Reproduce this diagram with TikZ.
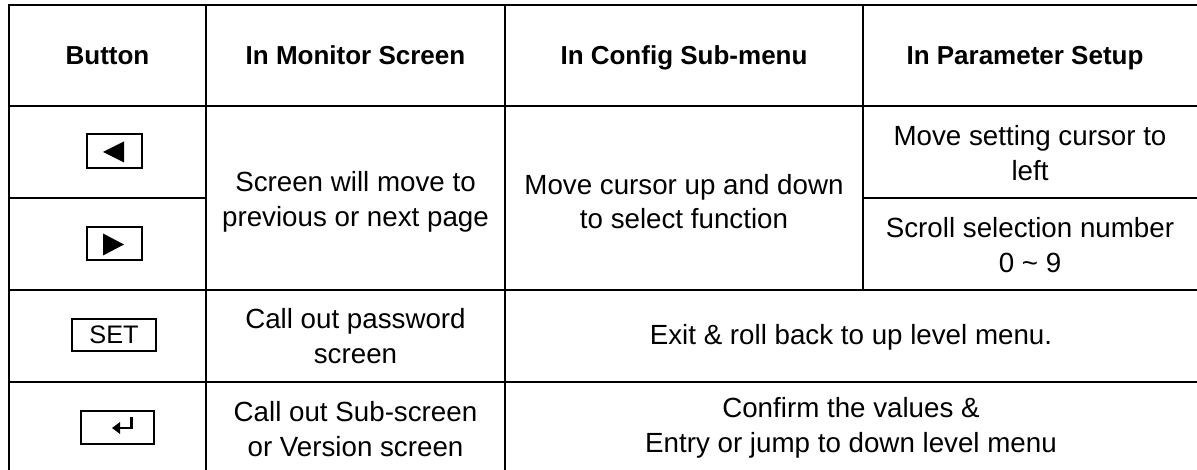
\documentclass[tikz,border=0pt]{standalone}
\usepackage{fontspec}
\setmainfont{Liberation Sans}
\usepackage{tikz}
\usetikzlibrary{arrows.meta}

\tikzset{
  celltext/.style={align=center,inner sep=0.75pt,font=\fontsize{20.8}{26}\selectfont},
  headtext/.style={inner sep=0.75pt,anchor=base,font=\fontsize{19.5}{24}\selectfont\bfseries},
  keybox/.style={draw,line width=1.2pt,inner sep=0pt},
  rule/.style={line width=1.5pt},
}

\begin{document}
\begin{tikzpicture}[x=0.75pt,y=0.75pt,yscale=-1]
\useasboundingbox (0,0) rectangle (1197,470);

%Table frame and rules
\draw [rule] (9,470) -- (9,5) -- (1197,5) ;
\draw [rule] (9,106) -- (1197,106) ;
\draw [rule] (9,198) -- (206,198) ;
\draw [rule] (863,198) -- (1197,198) ;
\draw [rule] (9,290) -- (1197,290) ;
\draw [rule] (9,382) -- (1197,382) ;
\draw [rule] (206,5) -- (206,470) ;
\draw [rule] (505,5) -- (505,470) ;
\draw [rule] (863,5) -- (863,290) ;

%Keys
\node [keybox,minimum width=41.25pt,minimum height=25.5pt] (bleft) at (114.5,151) {};
\fill (103,152) -- (124,141.5) -- (124,162.5) -- cycle ;
\node [keybox,minimum width=41.25pt,minimum height=24.75pt] (bright) at (114.5,243.5) {};
\fill (124,244.5) -- (103,233.5) -- (103,255.5) -- cycle ;
\node [keybox,minimum width=63pt,minimum height=24pt,font=\fontsize{19}{23}\selectfont] (bset) at (114,335) {SET};
\node [keybox,minimum width=54.75pt,minimum height=24.75pt] (benter) at (117.5,427.5) {};
\draw [line width=1.8pt,-{Triangle[length=6pt,width=8.5pt]}] (131.5,417) -- (131.5,428) -- (112,428) ;

% Text Node
\node [headtext] (hbtn) at (107.5,65) {Button};
% Text Node
\node [headtext] (hmon) at (355.5,65) {In Monitor Screen};
% Text Node
\node [headtext] (hcfg) at (684,65) {In Config Sub-menu};
% Text Node
\node [headtext] (hpar) at (1025,65) {In Parameter Setup};
% Text Node
\node [celltext] (mpage) at (355.5,201.5) {Screen will move to\\previous or next page};
% Text Node
\node [celltext] (cfunc) at (684,201.5) {Move cursor up and down\\to select function};
% Text Node
\node [celltext] (pleft) at (1030,153) {Move setting cursor to\\left};
% Text Node
\node [celltext] (pscroll) at (1030,245) {Scroll selection number\\0 \textasciitilde\ 9};
% Text Node
\node [celltext] (mpass) at (355.5,336) {Call out password\\screen};
% Text Node
\node [celltext,anchor=base] (exitmsg) at (851,345) {Exit \& roll back to up level menu.};
% Text Node
\node [celltext] (msub) at (355.5,429) {Call out Sub-screen\\or Version screen};
% Text Node
\node [celltext] (confirm) at (851,428) {Confirm the values \&\\Entry or jump to down level menu};

\end{tikzpicture}
\end{document}
